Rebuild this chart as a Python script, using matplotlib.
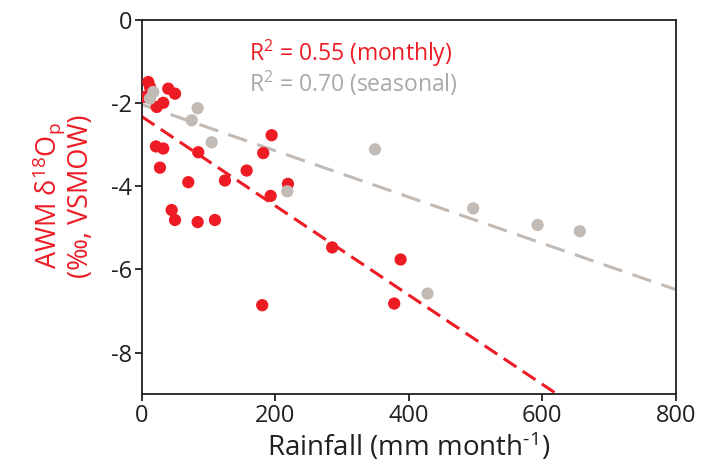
import numpy as np
import matplotlib
matplotlib.use('Agg')
import matplotlib.pyplot as plt

plt.rcParams['font.family'] = ['Open Sans', 'DejaVu Sans']
plt.rcParams['mathtext.fontset'] = 'custom'
plt.rcParams['mathtext.rm'] = 'Open Sans'
plt.rcParams['mathtext.it'] = 'Open Sans:italic'
plt.rcParams['axes.unicode_minus'] = False

# monthly rainfall (mm/month) and AWM d18O
monthly_rain = [9.9, 12.4, 4.9, 39.8, 49.9, 32.3, 22.5, 21.4, 32.3, 27.4,
                84.7, 69.8, 124.7, 157.2, 194.6, 182.0, 193.1, 219.0, 44.9,
                49.9, 83.8, 109.7, 285.3, 387.7, 180.5, 378.1]
monthly_d18o = [-1.49, -1.61, -1.85, -1.65, -1.77, -1.99, -2.09, -3.04, -3.09,
                -3.55, -3.18, -3.90, -3.86, -3.62, -2.77, -3.20, -4.23, -3.94,
                -4.57, -4.81, -4.86, -4.81, -5.47, -5.76, -6.86, -6.82]

# seasonal
seasonal_rain = [17.4, 12.4, 83.8, 74.9, 104.8, 218.0, 349.3, 496.4, 592.8,
                 656.1, 428.1]
seasonal_d18o = [-1.73, -1.89, -2.12, -2.41, -2.94, -4.12, -3.11, -4.53,
                 -4.93, -5.08, -6.58]

# regression lines (intercept, slope)
monthly_fit = (-2.32, -0.01074)
seasonal_fit = (-2.03, -0.00557)

red = '#ED1C24'
grey = '#C2BAB5'
txt_grey = '#A8A8A8'
dark = '#231F20'

fig = plt.figure(figsize=(7.13, 4.67), dpi=100)
ax = fig.add_axes([0.1987, 0.156, 0.7493, 0.801])

xx = np.array([0, 800])
ax.plot(xx, monthly_fit[0] + monthly_fit[1] * xx, color=red, lw=2.2,
        dashes=(5, 2.5), zorder=2)
ax.plot(xx, seasonal_fit[0] + seasonal_fit[1] * xx, color=grey, lw=2.2,
        dashes=(6.5, 3.5), zorder=2)

ax.scatter(monthly_rain, monthly_d18o, s=78, color=red, edgecolors='none', zorder=3)
ax.scatter(seasonal_rain, seasonal_d18o, s=78, color=grey, edgecolors='none', zorder=4)

ax.set_xlim(0, 800)
ax.set_ylim(-9, 0)
ax.set_xticks([0, 200, 400, 600, 800])
ax.set_yticks([0, -2, -4, -6, -8])

for s in ax.spines.values():
    s.set_linewidth(1.3)
    s.set_color(dark)
ax.tick_params(direction='out', length=5, width=1.3, colors=dark,
               labelsize=17, pad=2)

ax.set_xlabel('Rainfall (mm month$^{\\text{-1}}$)', fontsize=20, color=dark, labelpad=2)
ax.set_ylabel('AWM δ$^{18}$O$_\\mathrm{p}$\n(‰, VSMOW)', fontsize=19.5, color=red,
              linespacing=1.0)
ax.yaxis.set_label_coords(-0.088, 0.53)

ax.text(0.2, 0.91, 'R$^2$ = 0.55 (monthly)', transform=ax.transAxes,
        fontsize=16.5, color=red, va='center')
ax.text(0.2, 0.83, 'R$^2$ = 0.70 (seasonal)', transform=ax.transAxes,
        fontsize=16.5, color=txt_grey, va='center')

fig.savefig('out.png', dpi=100)
